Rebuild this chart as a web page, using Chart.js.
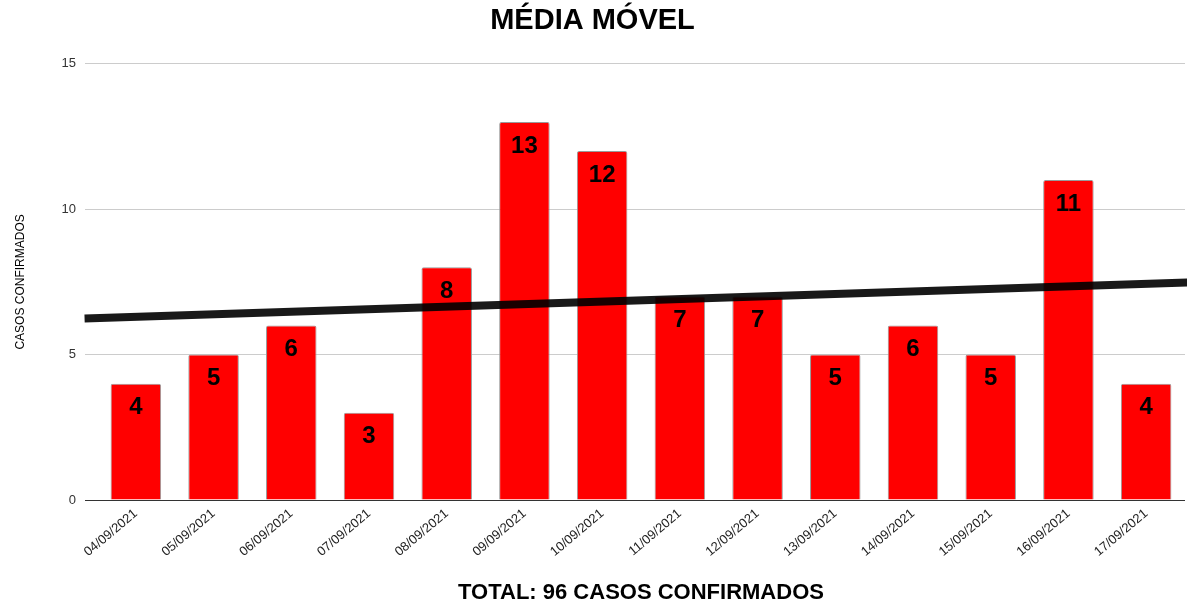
<!DOCTYPE html>
<html>
<head>
<meta charset="utf-8">
<title>Média Móvel</title>
<script src="https://cdn.jsdelivr.net/npm/chart.js@4/dist/chart.umd.min.js"></script>
<style>
  html, body { margin: 0; padding: 0; background: #fff; }
  #wrap { width: 1187px; height: 606px; }
</style>
</head>
<body>
<div id="wrap"><canvas id="myChart" width="1187" height="606"></canvas></div>
<script>
const labels = ["04/09/2021", "05/09/2021", "06/09/2021", "07/09/2021", "08/09/2021", "09/09/2021", "10/09/2021",
  "11/09/2021", "12/09/2021", "13/09/2021", "14/09/2021", "15/09/2021", "16/09/2021", "17/09/2021"];
const casos = [4, 5, 6, 3, 8, 13, 12, 7, 7, 5, 6, 5, 11, 4];

// trend line (index, value)
const trendX = [-0.66, 13.55];
const trendY = [6.24, 7.48];

const yTicks = [0, 5, 10, 15];

const FONT = "'Liberation Sans', Arial, sans-serif";

// numbers written inside the bars
const barLabels = {
  id: "barLabels",
  afterDraw(chart) {
    const ctx = chart.ctx;
    const meta = chart.getDatasetMeta(1);
    ctx.save();
    ctx.font = "bold 24px " + FONT;
    ctx.fillStyle = "#000";
    ctx.textAlign = "center";
    ctx.textBaseline = "middle";
    meta.data.forEach((bar, i) => {
      ctx.fillText(String(casos[i]), bar.x, bar.y + 24);
    });
    ctx.restore();
  }
};

new Chart(document.getElementById("myChart"), {
  data: {
    labels: labels,
    datasets: [
      {
        type: "line",
        label: "Tendência",
        data: trendX.map((x, i) => ({ x: x, y: trendY[i] })),
        xAxisID: "xt",
        borderColor: "rgba(0,0,0,0.9)",
        borderWidth: 8,
        pointRadius: 0,
        clip: false,
        order: 0
      },
      {
        type: "bar",
        label: "Casos",
        data: casos,
        backgroundColor: "#ff0000",
        borderColor: "#9a9a9a",
        borderWidth: 1,
        borderRadius: 2,
        grouped: false,
        barPercentage: 0.65,
        categoryPercentage: 1,
        order: 1
      }
    ]
  },
  options: {
    responsive: false,
    animation: false,
    layout: { padding: { left: 0, right: 2, top: 0, bottom: 0 } },
    plugins: {
      legend: { display: false },
      tooltip: { enabled: false },
      title: {
        display: true,
        text: "MÉDIA MÓVEL",
        color: "#000",
        font: { family: FONT, size: 29, weight: "bold" },
        padding: { top: 4, bottom: 25 }
      }
    },
    scales: {
      x: {
        type: "category",
        offset: true,
        grid: { display: false, drawTicks: false },
        border: { display: false },
        ticks: {
          color: "#222",
          font: { family: FONT, size: 13 },
          minRotation: 40,
          maxRotation: 40,
          padding: 6
        },
        title: {
          display: true,
          text: "TOTAL: 96 CASOS CONFIRMADOS",
          color: "#000",
          font: { family: FONT, size: 22, weight: "bold" },
          padding: { top: 0, bottom: 0 }
        },
        afterFit(scale) { scale.height = 106; }
      },
      xt: {
        type: "linear",
        display: false,
        min: -0.5,
        max: 13.5
      },
      y: {
        min: 0,
        max: 15,
        afterBuildTicks(scale) { scale.ticks = yTicks.map(v => ({ value: v })); },
        grid: {
          color: ctx => (ctx.tick && ctx.tick.value === 0 ? "#333" : "#cccccc"),
          lineWidth: 1,
          tickLength: 12
        },
        border: { display: false },
        ticks: {
          color: "#333",
          font: { family: FONT, size: 13 },
          padding: 9
        },
        title: {
          display: true,
          text: "CASOS CONFIRMADOS",
          color: "#000",
          font: { family: FONT, size: 12 },
          padding: { top: 13, bottom: 0 }
        },
        afterFit(scale) { scale.width = 97; }
      }
    }
  },
  plugins: [barLabels]
});
</script>
</body>
</html>
